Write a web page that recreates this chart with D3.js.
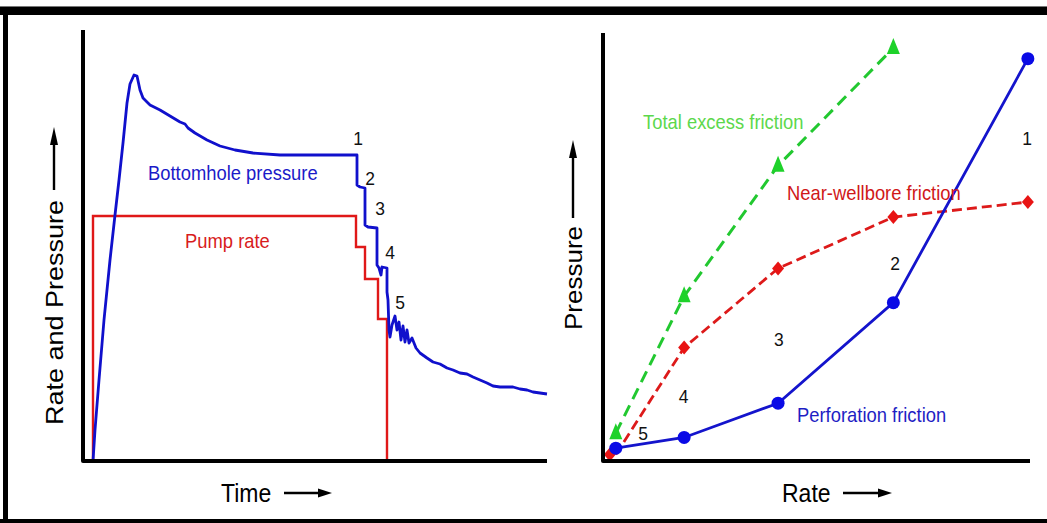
<!DOCTYPE html>
<html>
<head>
<meta charset="utf-8">
<script src="https://cdn.jsdelivr.net/npm/d3@7"></script>
<style>
  html, body { margin: 0; padding: 0; background: #fff; }
  svg { display: block; }
  text { font-family: "Liberation Sans", Arial, Helvetica, sans-serif; }
</style>
</head>
<body>
<svg id="chart" width="1047" height="523"></svg>
<script>
// ---- Left panel: step-rate test history (arbitrary time / pressure units) ----
const bhpTime = [10, 12, 16, 21, 27, 32, 36, 40, 44, 47, 51, 54, 57, 60, 67, 77, 87, 97, 102, 105, 112, 124, 137, 152, 170, 197, 237, 274,
  274, 277, 282, 282, 285, 294, 294, 296, 298, 299, 304, 304, 305, 306, 307, 309, 312, 314, 316, 318, 320, 322, 324, 326, 329, 333,
  337, 344, 350, 357, 364, 370, 377, 384, 390, 397, 404, 410, 417, 424, 430, 437, 444, 450, 457, 464];
const bhpValue = [0, 31, 81, 141, 201, 246, 281, 318, 358, 377, 386, 385, 371, 363, 356, 351, 345, 339, 337, 333, 328, 321, 315, 311, 308, 306, 306, 306,
  276, 274, 273, 236, 234, 233, 196, 193, 186, 194, 193, 169, 161, 131, 124, 136, 145, 131, 139, 121, 135, 119, 131, 118, 123, 113,
  108, 103, 99, 97, 93, 91, 88, 87, 84, 81, 78, 75, 74, 74, 74, 72, 71, 69, 68, 67];
const rateTime = [10, 10, 273, 273, 282, 282, 295, 295, 304, 304];
const rateValue = [0, 245, 245, 214, 214, 182, 182, 142, 142, 0];
const stepNames = ["1", "2", "3", "4", "5"];
const stepLabelTime = [275, 287, 297, 307, 317];
const stepLabelValue = [323, 283, 253, 209, 159];

// ---- Right panel: friction components versus rate (arbitrary units) ----
const rates = [3, 19, 41, 68, 99.5];
const perforationFriction = [3, 5.5, 13.5, 37, 94];
const nearWellboreFriction = [1.5, 26.5, 45, 57, 60.5];
const totalExcessFriction = [6.5, 38.5, 69, 96.5];
const regionLabelRate = [99.3, 68.4, 41.2, 18.9, 9.4];
const regionLabelValue = [75.5, 46.3, 28.5, 15.2, 6.5];

const svg = d3.select("#chart");
const FONT_SQUEEZE = 0.92;

// frame
svg.append("rect").attr("x", 0).attr("y", 6).attr("width", 1047).attr("height", 1).attr("fill", "#777");
svg.append("rect").attr("x", 0).attr("y", 7).attr("width", 1047).attr("height", 8).attr("fill", "#000");
svg.append("rect").attr("x", 3).attr("y", 7).attr("width", 5).attr("height", 516).attr("fill", "#000");
svg.append("rect").attr("x", 0).attr("y", 519).attr("width", 1047).attr("height", 4).attr("fill", "#000");

function label(x, y, str, size, color, anchor) {
  return svg.append("text")
    .attr("transform", `translate(${x},${y}) scale(${FONT_SQUEEZE},1)`)
    .attr("text-anchor", anchor || "start")
    .attr("font-size", size)
    .attr("fill", color)
    .text(str);
}

function arrowRight(x0, x1, y) {
  svg.append("line").attr("x1", x0).attr("x2", x1 - 10).attr("y1", y).attr("y2", y)
    .attr("stroke", "#000").attr("stroke-width", 2.4);
  svg.append("path").attr("d", `M${x1},${y} L${x1 - 14},${y - 4.5} L${x1 - 14},${y + 4.5} Z`).attr("fill", "#000");
}
function arrowUp(x, y0, y1) {
  svg.append("line").attr("x1", x).attr("x2", x).attr("y1", y0).attr("y2", y1 + 10)
    .attr("stroke", "#000").attr("stroke-width", 2.4);
  svg.append("path").attr("d", `M${x},${y1} L${x - 4},${y1 + 18} L${x + 4},${y1 + 18} Z`).attr("fill", "#000");
}
function verticalLabel(x, y, str, size) {
  svg.append("text")
    .attr("transform", `translate(${x},${y}) scale(${FONT_SQUEEZE},1) rotate(-90)`)
    .attr("font-size", size).attr("fill", "#000").text(str);
}

// ===== Left panel =====
const xL = d3.scaleLinear().domain([0, 464]).range([83, 547]);
const yL = d3.scaleLinear().domain([0, 431]).range([461, 30]);

const bhp = bhpTime.map((t, i) => [t, bhpValue[i]]);
const pump = rateTime.map((t, i) => [t, rateValue[i]]);
const lineL = d3.line().x(d => xL(d[0])).y(d => yL(d[1]));

svg.append("path").attr("d", lineL(pump)).attr("fill", "none")
  .attr("stroke", "#e01818").attr("stroke-width", 2.4).attr("stroke-linejoin", "miter");
svg.append("path").attr("d", lineL(bhp)).attr("fill", "none")
  .attr("stroke", "#1010cc").attr("stroke-width", 2.8).attr("stroke-linejoin", "round");

// axes of left panel
const axisLineL = d3.line()([[xL.range()[0], yL.range()[1]], [xL.range()[0], yL(0)], [xL.range()[1], yL(0)]]);
svg.append("path").attr("d", axisLineL).attr("fill", "none").attr("stroke", "#000")
  .attr("stroke-width", 4).attr("stroke-linejoin", "round");

label(148, 180, "Bottomhole pressure", 20, "#1a1ac8");
label(185, 248, "Pump rate", 20, "#d81c1c");
stepNames.forEach((s, i) => label(xL(stepLabelTime[i]), yL(stepLabelValue[i]) + 7, s, 19, "#111", "middle"));

verticalLabel(63, 425, "Rate and Pressure", 27);
arrowUp(54, 190, 127);
label(221, 502, "Time", 25, "#000");
arrowRight(284, 332, 493);

// ===== Right panel =====
const xR = d3.scaleLinear().domain([0, 100]).range([603, 1030]);
const yR = d3.scaleLinear().domain([0, 100]).range([461, 33]);
const lineR = d3.line().x(d => xR(d[0])).y(d => yR(d[1]));

const perf = rates.map((r, i) => [r, perforationFriction[i]]);
const nwb = rates.map((r, i) => [r, nearWellboreFriction[i]]);
const tot = totalExcessFriction.map((v, i) => [rates[i], v]);

svg.append("path").attr("d", lineR(tot)).attr("fill", "none")
  .attr("stroke", "#22c830").attr("stroke-width", 3).attr("stroke-dasharray", "12,7");
svg.append("path").attr("d", lineR(nwb)).attr("fill", "none")
  .attr("stroke", "#dd1a1a").attr("stroke-width", 2.8).attr("stroke-dasharray", "10,5");
svg.append("path").attr("d", lineR(perf)).attr("fill", "none")
  .attr("stroke", "#1414cc").attr("stroke-width", 2.8);

svg.selectAll(".tri").data(tot).enter().append("path")
  .attr("transform", d => `translate(${xR(d[0])},${yR(d[1])})`)
  .attr("d", "M0,-10 L6.5,6 L-6.5,6 Z").attr("fill", "#1ed22a");
svg.selectAll(".dia").data(nwb).enter().append("path")
  .attr("transform", (d, i) => `translate(${xR(d[0]) - (i === 0 ? 6 : 0)},${yR(d[1])})`)
  .attr("d", "M0,-7 L6,0 L0,7 L-6,0 Z").attr("fill", "#e81414");
svg.selectAll(".dot").data(perf).enter().append("circle")
  .attr("cx", d => xR(d[0])).attr("cy", d => yR(d[1])).attr("r", 6.5).attr("fill", "#0a0ae6");

const axisLineR = d3.line()([[xR.range()[0], yR.range()[1]], [xR.range()[0], yR(0)], [xR.range()[1], yR(0)]]);
svg.append("path").attr("d", axisLineR).attr("fill", "none").attr("stroke", "#000")
  .attr("stroke-width", 4).attr("stroke-linejoin", "round");

label(643, 129, "Total excess friction", 20, "#5cd84c");
label(787, 200, "Near-wellbore friction", 20, "#d01818");
label(797, 422, "Perforation friction", 20, "#1e1ec4");
stepNames.forEach((s, i) => label(xR(regionLabelRate[i]), yR(regionLabelValue[i]) + 7, s, 19, "#111", "middle"));

verticalLabel(582, 330, "Pressure", 26);
arrowUp(573, 218, 140);
label(782, 502, "Rate", 25, "#000");
arrowRight(843, 892, 493);
</script>
</body>
</html>
